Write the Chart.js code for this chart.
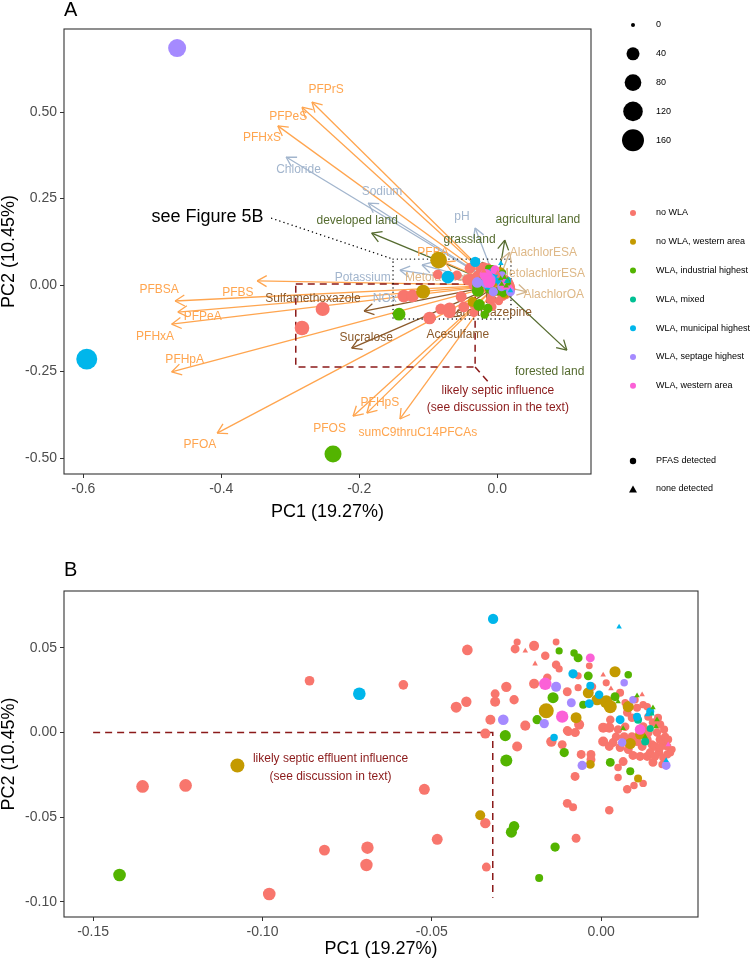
<!DOCTYPE html>
<html lang="en">
<head>
<meta charset="UTF-8">
<title>PCA biplot - sampling sites</title>
<script src="https://cdn.jsdelivr.net/npm/chart.js"></script>
<style>
  body { margin: 0; background: #fff; width: 750px; height: 962px; position: relative; overflow: hidden; }
  canvas { position: absolute; left: 0; }
  #chartA { top: 0; }
  #chartB { top: 540px; }
</style>
</head>
<body>
<canvas id="chartA" width="750" height="530"></canvas>
<canvas id="chartB" width="750" height="422"></canvas>
<script>
// ---- categories ----
const groups = ['no WLA', 'no WLA, western area', 'WLA, industrial highest', 'WLA, mixed',
                'WLA, municipal highest', 'WLA, septage highest', 'WLA, western area'];
const groupColors = ['#F8766D', '#C49A00', '#53B400', '#00C094', '#00B6EB', '#A58AFF', '#FB61D7'];
const sizeBreaks = [0, 40, 80, 120, 160];
const shapeNames = ['PFAS detected', 'none detected'];

// ---- site scores [PC1, PC2, sum PFAS] (PFAS detected, circles) ----
const pts_noWLA = [
  [-0.0861, 0.0306, 16], [-0.0584, 0.0282, 16], [-0.0428, 0.0150, 24], [-0.1354, -0.0318, 37], [-0.1227, -0.0312, 37],
  [-0.0522, -0.0335, 24], [-0.0484, -0.0630, 24], [-0.0817, -0.0694, 24], [-0.0690, -0.0680, 35], [-0.0693, -0.0782, 35],
  [-0.0980, -0.0953, 37], [-0.0395, 0.0488, 22], [-0.0248, 0.0535, 5], [-0.0254, 0.0494, 12], [-0.0198, 0.0512, 18],
  [-0.0133, 0.0535, 4], [-0.0165, 0.0453, 10], [-0.0133, 0.0400, 10], [-0.0124, 0.0376, 5], [-0.0035, 0.0394, 4],
  [-0.0068, 0.0335, 5], [-0.0280, 0.0270, 20], [-0.0313, 0.0229, 12], [-0.0257, 0.0194, 14], [-0.0313, 0.0182, 18],
  [-0.0398, 0.0182, 20], [-0.0198, 0.0288, 18], [-0.0159, 0.0324, 10], [-0.0100, 0.0241, 12], [-0.0068, 0.0265, 5],
  [-0.0027, 0.0270, 10], [-0.0065, 0.0047, 18], [-0.0224, 0.0041, 18], [-0.0327, 0.0076, 18], [-0.0342, -0.0006, 18],
  [-0.0248, -0.0082, 18], [-0.0147, -0.0053, 20], [-0.0115, -0.0071, 12], [-0.0097, 0.0006, 12], [-0.0074, 0.0000, 5],
  [-0.0059, -0.0129, 12], [-0.0030, -0.0129, 12], [-0.0030, -0.0159, 12], [-0.0077, -0.0259, 12], [0.0065, -0.0171, 12],
  [0.0050, -0.0206, 6], [0.0050, -0.0265, 6], [0.0077, -0.0335, 10], [0.0097, -0.0312, 6], [0.0124, -0.0300, 6],
  [-0.0100, -0.0418, 12], [-0.0083, -0.0441, 8], [0.0024, -0.0459, 10], [-0.0342, -0.0535, 20], [-0.0074, -0.0624, 12],
  [-0.0339, -0.0794, 12], [0.0015, 0.0294, 5], [0.0056, 0.0235, 8], [0.0071, 0.0176, 6], [0.0100, 0.0194, 6],
  [0.0124, 0.0165, 6], [0.0136, 0.0153, 6], [0.0027, 0.0076, 10], [0.0071, 0.0035, 10], [0.0006, 0.0029, 18],
  [0.0024, 0.0029, 18], [0.0006, -0.0053, 18], [0.0024, -0.0082, 12], [0.0035, -0.0059, 12], [0.0068, -0.0024, 12],
  [0.0091, -0.0024, 12], [0.0094, -0.0135, 12], [0.0115, -0.0141, 12], [0.0136, -0.0141, 12], [0.0153, -0.0176, 12],
  [0.0180, -0.0188, 6], [0.0171, -0.0118, 10], [0.0204, -0.0118, 8], [0.0174, -0.0041, 12], [0.0183, -0.0059, 10],
  [0.0195, -0.0082, 10], [0.0150, -0.0071, 12], [0.0165, 0.0000, 10], [0.0174, 0.0047, 10], [0.0189, -0.0024, 8],
  [0.0077, 0.0118, 10], [0.0091, 0.0088, 10], [0.0139, 0.0094, 8], [0.0153, 0.0059, 10], [0.0124, 0.0035, 12],
  [0.0139, 0.0000, 12], [0.0121, -0.0082, 12], [0.0106, -0.0053, 12], [0.0136, -0.0041, 12], [0.0159, -0.0082, 12],
  [0.0174, -0.0088, 10], [0.0145, -0.0118, 12], [0.0159, -0.0141, 10], [0.0183, -0.0147, 8], [0.0195, -0.0129, 8],
  [0.0080, -0.0100, 12], [0.0056, -0.0088, 12], [0.0044, -0.0024, 10], [0.0050, 0.0018, 10], [0.0210, -0.0100, 4],
  [0.0198, -0.0041, 8], [0.0186, 0.0018, 8], [0.0168, 0.0088, 8], [0.0106, 0.0147, 8], [-0.0100, 0.0012, 12],
  [-0.0077, 0.0000, 12]
];
const pts_noWLAWest = [
  [-0.1074, -0.0194, 50], [0.0041, 0.0359, 25], [-0.0038, 0.0235, 24], [-0.0162, 0.0129, 60], [-0.0074, 0.0088, 24],
  [-0.0032, -0.0188, 12], [0.0109, -0.0271, 8], [-0.0357, -0.0488, 18], [-0.0012, 0.0194, 25], [0.0015, 0.0182, 40],
  [0.0027, 0.0153, 40], [0.0080, 0.0153, 25], [0.0115, -0.0012, 18], [0.0086, -0.0065, 25]
];
const pts_industrial = [
  [-0.1422, -0.0841, 37], [-0.0124, 0.0482, 5], [-0.0080, 0.0470, 6], [-0.0068, 0.0441, 12], [-0.0038, 0.0335, 12],
  [0.0080, 0.0341, 6], [-0.0142, 0.0206, 25], [-0.0053, 0.0165, 8], [-0.0189, 0.0076, 14], [-0.0283, -0.0018, 25],
  [-0.0109, -0.0118, 14], [-0.0280, -0.0165, 32], [0.0027, -0.0176, 12], [0.0086, -0.0229, 8], [-0.0257, -0.0553, 20],
  [-0.0265, -0.0588, 25], [-0.0136, -0.0676, 14], [-0.0183, -0.0859, 8], [0.0041, 0.0212, 12]
];
const pts_mixed = [[0.0109, 0.0076, 8], [0.0130, -0.0053, 8], [0.0145, 0.0024, 5]];
const pts_municipal = [
  [-0.0714, 0.0229, 37], [-0.0319, 0.0671, 20], [-0.0083, 0.0347, 14], [-0.0035, 0.0171, 12], [-0.0139, -0.0029, 6],
  [-0.0032, 0.0276, 8], [-0.0006, 0.0224, 10], [0.0056, 0.0076, 12], [0.0145, 0.0124, 8], [0.0106, 0.0094, 8]
];
const pts_septage = [
  [-0.0133, 0.0270, 18], [-0.0088, 0.0176, 12], [-0.0168, 0.0053, 14], [-0.0289, 0.0076, 22], [-0.0056, -0.0194, 14],
  [0.0068, 0.0294, 6], [0.0062, -0.0059, 10], [0.0192, -0.0194, 12], [0.0094, 0.0194, 6]
];
const pts_western = [[-0.0032, 0.0441, 12], [-0.0165, 0.0288, 35], [-0.0115, 0.0094, 35], [0.0115, 0.0018, 22]];

// ---- site scores [PC1, PC2] with no PFAS detected (triangles) ----
const nd_noWLA = [[-0.0224, 0.0482], [-0.0195, 0.0406], [0.0006, 0.0341], [0.0029, 0.0259], [0.0121, 0.0224]];
const nd_industrial = [[0.0050, 0.0182], [0.0106, 0.0218], [0.0153, 0.0147], [0.0065, 0.0024], [0.0130, -0.0024],
                       [0.0162, 0.0035], [0.0165, 0.0076]];
const nd_mixed = [[0.0150, 0.0110]];
const nd_municipal = [[0.0053, 0.0624], [0.0136, 0.0106], [0.0192, -0.0165]];
const nd_western = [[0.0198, -0.0071]];

// ---- sites only visible in the full biplot [PC1, PC2, sum PFAS, group] ----
const outliersA = [[-0.464, 0.685, 97, 5], [-0.595, -0.214, 143, 4], [-0.238, -0.488, 84, 2],
                   [-0.253, -0.069, 50, 0], [-0.283, -0.124, 56, 0], [-0.085, 0.072, 80, 1]];

// ---- variable loadings ----
const loadingTypes = ['PFAS', 'water chemistry', 'land use', 'herbicide degradates', 'wastewater tracers'];
const typeLineColors = ['#FFA54F', '#A2B5CD', '#556B2F', '#D2B48C', '#8B5A2B'];
const typeTextColors = ['#FFA54F', '#A2B5CD', '#556B2F', '#DEB887', '#8B5A2B'];
const loadingNames = ['PFPrS', 'PFPeS', 'PFHxS', 'PFBA', 'PFBSA', 'PFBS', 'PFPeA', 'PFHxA', 'PFHpA', 'PFOA', 'PFOS', 'PFHpS',
  'sumC9thruC14PFCAs', 'Chloride', 'Sodium', 'pH', 'Potassium', 'NOx', 'developed land', 'agricultural land', 'grassland',
  'forested land', 'AlachlorESA', 'MetolachlorESA', 'AlachlorOA', 'MetolachlorOA', 'Sulfamethoxazole', 'Sucralose',
  'Acesulfame', 'Carbamazepine'];
const loadingType = [0,0,0,0,0,0,0,0,0,0,0,0,0, 1,1,1,1,1, 2,2,2,2, 3,3,3,3, 4,4,4,4];
const tipPC1 = [-0.2685, -0.283, -0.318, -0.076, -0.467, -0.348, -0.463, -0.472, -0.472, -0.406, -0.209, -0.189, -0.141,
  -0.306, -0.187, -0.032, -0.141, -0.109, -0.182, 0.011, -0.022, 0.101, 0.018, 0.011, 0.043, -0.040,
  -0.193, -0.211, -0.069, -0.015];
const tipPC2 = [0.529, 0.514, 0.460, 0.066, -0.046, 0.012, -0.078, -0.113, -0.251, -0.428, -0.379, -0.370, -0.387,
  0.370, 0.237, 0.165, 0.043, 0.058, 0.150, 0.130, 0.066, -0.188, 0.095, 0.026, -0.020, 0.014,
  -0.075, -0.182, -0.092, -0.052];
const labelPC1 = [-0.248, -0.303, -0.341, -0.093, -0.490, -0.376, -0.427, -0.496, -0.453, -0.431, -0.243, -0.170, -0.115,
  -0.288, -0.167, -0.051, -0.195, -0.163, -0.203, 0.059, -0.040, 0.076, 0.067, 0.065, 0.082, -0.076,
  -0.267, -0.190, -0.057, -0.011];
const labelPC2 = [0.564, 0.486, 0.425, 0.095, -0.012, -0.023, -0.090, -0.150, -0.217, -0.462, -0.416, -0.341, -0.428,
  0.332, 0.269, 0.197, 0.020, -0.040, 0.185, 0.188, 0.130, -0.251, 0.095, 0.032, -0.029, 0.020,
  -0.040, -0.153, -0.142, -0.081];

// ---- annotations (data units) ----
const zoomBoxPC1 = [-0.151, 0.020], zoomBoxPC2 = [-0.098, 0.075];
const seeFigPC1 = [-0.327, -0.151], seeFigPC2 = [0.193, 0.075];
const seeFigLabel = [-0.420, 0.197];
const septicBoxPC1 = [-0.292, -0.032], septicBoxPC2 = [-0.237, 0.003];
const septicLinkPC1 = [-0.032, -0.013], septicLinkPC2 = [-0.237, -0.280];
const septicTextA = ['likely septic influence', '(see discussion in the text)'];
const septicTextAPos = [0.001, -0.306, -0.355];
const septicLinePC1B = [-0.150, -0.032, -0.032], septicLinePC2B = [0.000, 0.000, -0.0975];
const septicTextB = ['likely septic effluent influence', '(see discussion in text)'];
const septicTextBPos = [-0.0799, -0.0155, -0.0258];

// ---- axes ----
const rangeA = {xmin: -0.628, xmax: 0.136, ymin: -0.546, ymax: 0.740};
const rangeB = {xmin: -0.1586, xmax: 0.0286, ymin: -0.1089, ymax: 0.0836};
const xTicksA = [-0.6, -0.4, -0.2, 0.0], yTicksA = [-0.50, -0.25, 0.00, 0.25, 0.50];
const xTicksB = [-0.15, -0.10, -0.05, 0.00], yTicksB = [-0.10, -0.05, 0.00, 0.05];
const xTitle = 'PC1 (19.27%)', yTitle = 'PC2 (10.45%)';

const FONT = "'Liberation Sans', Arial, sans-serif";
Chart.defaults.font.family = FONT;

function radiusFor(v) { return 2 + 0.71 * Math.sqrt(v); }

function pointSet(arr, g, triangle) {
  return {
    kind: 'pts',
    data: arr.map(p => ({x: p[0], y: p[1], v: triangle ? 0 : p[2]})),
    backgroundColor: groupColors[g],
    borderWidth: 0,
    pointStyle: triangle ? 'triangle' : 'circle',
    pointRadius: c => radiusFor(c.raw ? c.raw.v : 0) * (triangle ? 1.6 : 1),
    order: triangle ? 3 - Math.min(g, 3) : 12 - g
  };
}

function lineSet(xs, ys, color, width, dash, cap) {
  return {
    kind: 'line', showLine: true,
    data: xs.map((v, i) => ({x: v, y: ys[i]})),
    borderColor: color, borderWidth: width, borderDash: dash || [], borderCapStyle: cap || 'butt',
    pointRadius: 0, fill: false, tension: 0, order: 50
  };
}

const circlesByGroup = [pts_noWLA, pts_noWLAWest, pts_industrial, pts_mixed, pts_municipal, pts_septage, pts_western];
const trianglesByGroup = [nd_noWLA, [], nd_industrial, nd_mixed, nd_municipal, [], nd_western];

function pointSets(withOutliers) {
  const sets = [];
  circlesByGroup.forEach((arr, g) => {
    const extra = withOutliers ? outliersA.filter(o => o[3] === g) : [];
    sets.push(pointSet(arr.concat(extra), g, false));
  });
  trianglesByGroup.forEach((arr, g) => { if (arr.length) sets.push(pointSet(arr, g, true)); });
  return sets;
}

function box(xs, ys) { return [[xs[0], xs[1], xs[1], xs[0], xs[0]], [ys[1], ys[1], ys[0], ys[0], ys[1]]]; }

function axes(range, xt, yt, xDigits, yDigits, xHeight, titlePad) {
  const common = {
    type: 'linear',
    grid: {drawOnChartArea: false, drawTicks: true, tickLength: 4, color: '#333333', lineWidth: 1},
    border: {display: false}
  };
  return {
    x: Object.assign({}, common, {
      position: 'bottom', min: range.xmin, max: range.xmax,
      afterBuildTicks: s => { s.ticks = xt.map(v => ({value: v})); },
      afterFit: s => { s.height = xHeight; },
      ticks: {callback: v => v.toFixed(xDigits), color: '#4D4D4D', font: {size: 14}, padding: 3, maxRotation: 0, autoSkip: false},
      title: {display: true, text: xTitle, color: '#000', font: {size: 18}, padding: {top: 0, bottom: titlePad}}
    }),
    y: Object.assign({}, common, {
      position: 'left', min: range.ymin, max: range.ymax,
      afterBuildTicks: s => { s.ticks = yt.map(v => ({value: v})); },
      afterFit: s => { s.width = 64; },
      ticks: {callback: v => v.toFixed(yDigits), color: '#4D4D4D', font: {size: 14}, padding: 3, autoSkip: false},
      title: {display: true, text: yTitle, color: '#000', font: {size: 18}, padding: {top: -2, bottom: 0}}
    })
  };
}

function drawFrame(chart, tag, tagY) {
  const {ctx, chartArea: a} = chart;
  ctx.save();
  ctx.strokeStyle = '#333333';
  ctx.lineWidth = 1.1;
  ctx.strokeRect(a.left, a.top, a.right - a.left, a.bottom - a.top);
  ctx.fillStyle = '#000';
  ctx.font = '20px ' + FONT;
  ctx.textAlign = 'left';
  ctx.textBaseline = 'middle';
  ctx.fillText(tag, a.left, tagY);
  ctx.restore();
}

// labels, arrow heads and notes for panel A, drawn under the site points
const layerA = {
  id: 'layerA',
  beforeDatasetsDraw(chart) { chart.$done = false; },
  beforeDatasetDraw(chart, args) {
    if (chart.data.datasets[args.index].kind !== 'pts' || chart.$done) return;
    chart.$done = true;
    const {ctx, scales: {x, y}} = chart;
    const ox = x.getPixelForValue(0), oy = y.getPixelForValue(0);
    ctx.save();
    ctx.lineWidth = 1.3;
    loadingNames.forEach((n, i) => {
      const tx = x.getPixelForValue(tipPC1[i]), ty = y.getPixelForValue(tipPC2[i]);
      const ang = Math.atan2(ty - oy, tx - ox);
      ctx.strokeStyle = typeLineColors[loadingType[i]];
      ctx.beginPath();
      [ang + Math.PI / 6, ang - Math.PI / 6].forEach(b => {
        ctx.moveTo(tx - 11 * Math.cos(b), ty - 11 * Math.sin(b));
        ctx.lineTo(tx, ty);
      });
      ctx.stroke();
    });
    ctx.font = '12px ' + FONT;
    ctx.textAlign = 'center';
    ctx.textBaseline = 'middle';
    loadingNames.forEach((n, i) => {
      ctx.fillStyle = typeTextColors[loadingType[i]];
      ctx.fillText(n, x.getPixelForValue(labelPC1[i]), y.getPixelForValue(labelPC2[i]));
    });
    ctx.fillStyle = '#8B1A1A';
    septicTextA.forEach((t, k) => ctx.fillText(t, x.getPixelForValue(septicTextAPos[0]), y.getPixelForValue(septicTextAPos[k + 1])));
    ctx.fillStyle = '#000';
    ctx.font = '18px ' + FONT;
    ctx.fillText('see Figure 5B', x.getPixelForValue(seeFigLabel[0]), y.getPixelForValue(seeFigLabel[1]));
    ctx.restore();
  },
  afterDraw(chart) {
    drawFrame(chart, 'A', 10);
    const {ctx, chartArea: a} = chart;
    const dotX = a.right + 42, textX = a.right + 65;
    ctx.save();
    ctx.font = '9px ' + FONT;
    ctx.textAlign = 'left';
    ctx.textBaseline = 'middle';
    ctx.fillStyle = '#000';
    sizeBreaks.forEach((s, i) => {
      const yy = 25 + i * 28.8;
      ctx.beginPath(); ctx.arc(dotX, yy, radiusFor(s), 0, Math.PI * 2); ctx.fill();
      ctx.fillText(String(s), textX, yy);
    });
    groups.forEach((g, i) => {
      const yy = 213 + i * 28.8;
      ctx.fillStyle = groupColors[i];
      ctx.beginPath(); ctx.arc(dotX, yy, 3, 0, Math.PI * 2); ctx.fill();
      ctx.fillStyle = '#000';
      ctx.fillText(g, textX, yy);
    });
    ctx.beginPath(); ctx.arc(dotX, 461, 3.2, 0, Math.PI * 2); ctx.fill();
    ctx.fillText(shapeNames[0], textX, 461);
    ctx.beginPath();
    ctx.moveTo(dotX, 485.5); ctx.lineTo(dotX + 4, 492.5); ctx.lineTo(dotX - 4, 492.5); ctx.closePath(); ctx.fill();
    ctx.fillText(shapeNames[1], textX, 489);
    ctx.restore();
  }
};

const layerB = {
  id: 'layerB',
  beforeDatasetsDraw(chart) { chart.$done = false; },
  beforeDatasetDraw(chart, args) {
    if (chart.data.datasets[args.index].kind !== 'pts' || chart.$done) return;
    chart.$done = true;
    const {ctx, scales: {x, y}} = chart;
    ctx.save();
    ctx.font = '12px ' + FONT;
    ctx.textAlign = 'center';
    ctx.textBaseline = 'middle';
    ctx.fillStyle = '#8B1A1A';
    septicTextB.forEach((t, k) => ctx.fillText(t, x.getPixelForValue(septicTextBPos[0]), y.getPixelForValue(septicTextBPos[k + 1])));
    ctx.restore();
  },
  afterDraw(chart) { drawFrame(chart, 'B', 30); }
};

// ---- panel A: full biplot ----
const zb = box(zoomBoxPC1, zoomBoxPC2), sb = box(septicBoxPC1, septicBoxPC2);
const datasetsA = [
  lineSet(zb[0], zb[1], '#000', 1.4, [0.1, 4.2], 'round'),
  lineSet(seeFigPC1, seeFigPC2, '#000', 1.4, [0.1, 4.2], 'round'),
  lineSet(sb[0], sb[1], '#8B1A1A', 1.5, [7, 5]),
  lineSet(septicLinkPC1, septicLinkPC2, '#8B1A1A', 1.5, [7, 5])
];
loadingNames.forEach((n, i) => {
  datasetsA.push(lineSet([0, tipPC1[i]], [0, tipPC2[i]], typeLineColors[loadingType[i]], 1.3));
});

new Chart(document.getElementById('chartA'), {
  type: 'scatter',
  data: {datasets: datasetsA.concat(pointSets(true))},
  options: {
    responsive: false, animation: false, devicePixelRatio: 1, events: [],
    layout: {padding: {left: 0, right: 159, top: 29, bottom: 0}},
    plugins: {legend: {display: false}, tooltip: {enabled: false}},
    scales: axes(rangeA, xTicksA, yTicksA, 1, 2, 56, 7)
  },
  plugins: [layerA]
});

// ---- panel B: zoom on the cluster near the origin ----
new Chart(document.getElementById('chartB'), {
  type: 'scatter',
  data: {datasets: [lineSet(septicLinePC1B, septicLinePC2B, '#8B1A1A', 1.5, [7, 5])].concat(pointSets(false))},
  options: {
    responsive: false, animation: false, devicePixelRatio: 1, events: [],
    layout: {padding: {left: 0, right: 52, top: 51, bottom: 0}},
    plugins: {legend: {display: false}, tooltip: {enabled: false}},
    scales: axes(rangeB, xTicksB, yTicksB, 2, 2, 45, 2)
  },
  plugins: [layerB]
});
</script>
</body>
</html>
